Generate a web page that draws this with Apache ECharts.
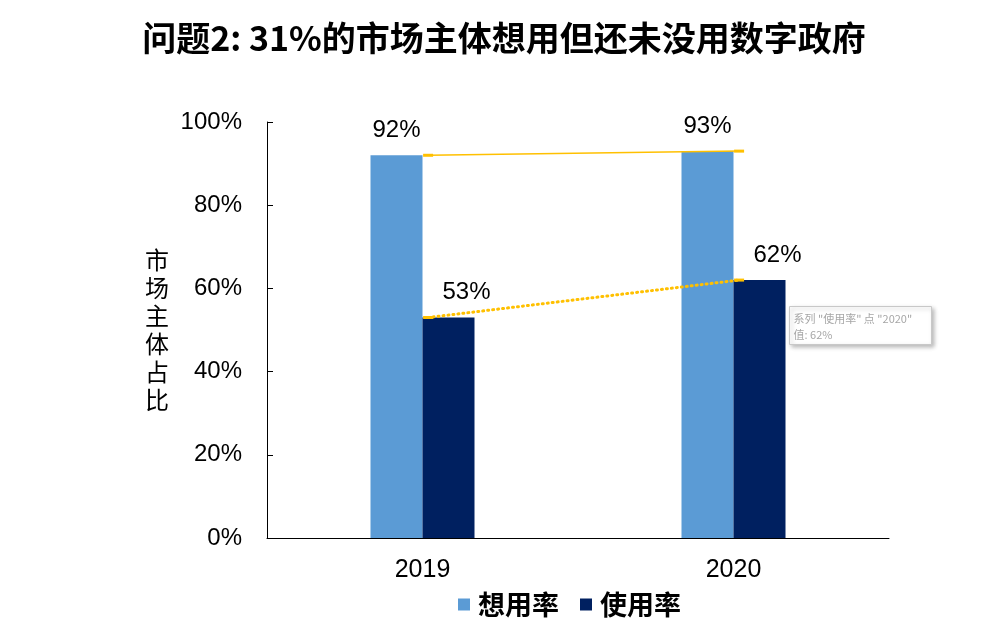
<!DOCTYPE html>
<html><head><meta charset="utf-8">
<script src="https://cdn.jsdelivr.net/npm/echarts@6/dist/echarts.min.js"></script>
<style>html,body{margin:0;padding:0;background:#fff}#c{width:1008px;height:632px}</style>
</head><body><div id="c"></div>
<script>
const titleText = '问题2: 31%的市场主体想用但还未没用数字政府';
const years = ['2019', '2020'];
const wantRate = [92, 93];   // 想用率
const useRate = [53, 62];    // 使用率
const seriesNames = ['想用率', '使用率'];
const yTicks = [0, 20, 40, 60, 80, 100];

const LINE_SHIFT = 0.018; // connector lines sit just right of category center
const toLine = vals => vals.map((v, i) => [i + LINE_SHIFT, v]);

const chart = echarts.init(document.getElementById('c'));
chart.setOption({
  animation: false,
  backgroundColor: '#fff',
  textStyle: { fontFamily: 'Liberation Sans, Arial, Noto Sans CJK SC, sans-serif' },
  title: {
    text: titleText, left: 'center', top: 16,
    textStyle: { fontSize: 34, fontWeight: 'bold', color: '#000', fontFamily: 'Noto Sans CJK SC' }
  },
  grid: { left: 267, right: 119, top: 122, bottom: 94 },
  legend: {
    data: seriesNames, bottom: 9, left: 453,
    icon: 'rect', itemWidth: 12, itemHeight: 12, itemGap: 21,
    textStyle: { fontSize: 27, color: '#000', fontFamily: 'Noto Sans CJK SC', fontWeight: 'bold', padding: [0, 0, 0, 3] }
  },
  xAxis: [
    { type: 'category', data: years,
      axisLine: { lineStyle: { color: '#000', width: 1 } },
      axisTick: { show: false },
      axisLabel: { fontSize: 25, color: '#000', margin: 20 } },
    { type: 'value', min: -0.5, max: 1.5, show: false }
  ],
  yAxis: {
    type: 'value', min: 0, max: 100, interval: 20,
    name: '市\n场\n主\n体\n占\n比', nameLocation: 'middle', nameRotate: 0, nameGap: 98,
    nameTextStyle: { fontSize: 24, color: '#000', lineHeight: 28, fontFamily: 'Noto Sans CJK SC' },
    axisLine: { show: true, onZero: false, lineStyle: { color: '#000', width: 1 } },
    axisTick: { show: true, inside: true, length: 6, lineStyle: { color: '#000' } },
    splitLine: { show: false },
    axisLabel: { fontSize: 24, color: '#000', margin: 25,
      formatter: v => yTicks.includes(v) ? v + '%' : '' }
  },
  series: [
    { name: seriesNames[0], type: 'bar', data: wantRate, barWidth: 52, barGap: '0%',
      itemStyle: { color: '#5B9BD5' },
      label: { show: true, position: 'top', distance: 13, fontSize: 24, color: '#000', formatter: p => p.value + '%' } },
    { name: seriesNames[1], type: 'bar', data: useRate, barWidth: 52,
      itemStyle: { color: '#002060' },
      label: { show: true, position: 'top', distance: 13, offset: [18, 0], fontSize: 24, color: '#000', formatter: p => p.value + '%' } },
    { name: 'wantLine', type: 'line', xAxisIndex: 1, data: toLine(wantRate), z: 5,
      lineStyle: { color: '#FFC000', width: 1.5 },
      symbol: 'rect', symbolSize: [10, 3], itemStyle: { color: '#FFC000' } },
    { name: 'useLine', type: 'line', xAxisIndex: 1, data: toLine(useRate), z: 5,
      lineStyle: { color: '#FFC000', width: 3, type: [1, 4], cap: 'round' },
      symbol: 'rect', symbolSize: [10, 3], itemStyle: { color: '#FFC000' } }
  ],
  graphic: [{
    type: 'group', left: 789, top: 306,
    children: [
      { type: 'rect', shape: { x: 0, y: 0, width: 142, height: 38 },
        style: { fill: '#fff', stroke: '#c8c8c8', lineWidth: 1, shadowBlur: 4, shadowOffsetX: 2, shadowOffsetY: 2, shadowColor: 'rgba(0,0,0,0.25)' } },
      { type: 'text', x: 4, y: 4,
        style: { text: '系列 "使用率" 点 "2020"\n值: 62%', fill: '#a6a6a6', fontSize: 11, lineHeight: 16, fontFamily: 'Noto Sans CJK SC' } }
    ]
  }]
});
</script></body></html>
